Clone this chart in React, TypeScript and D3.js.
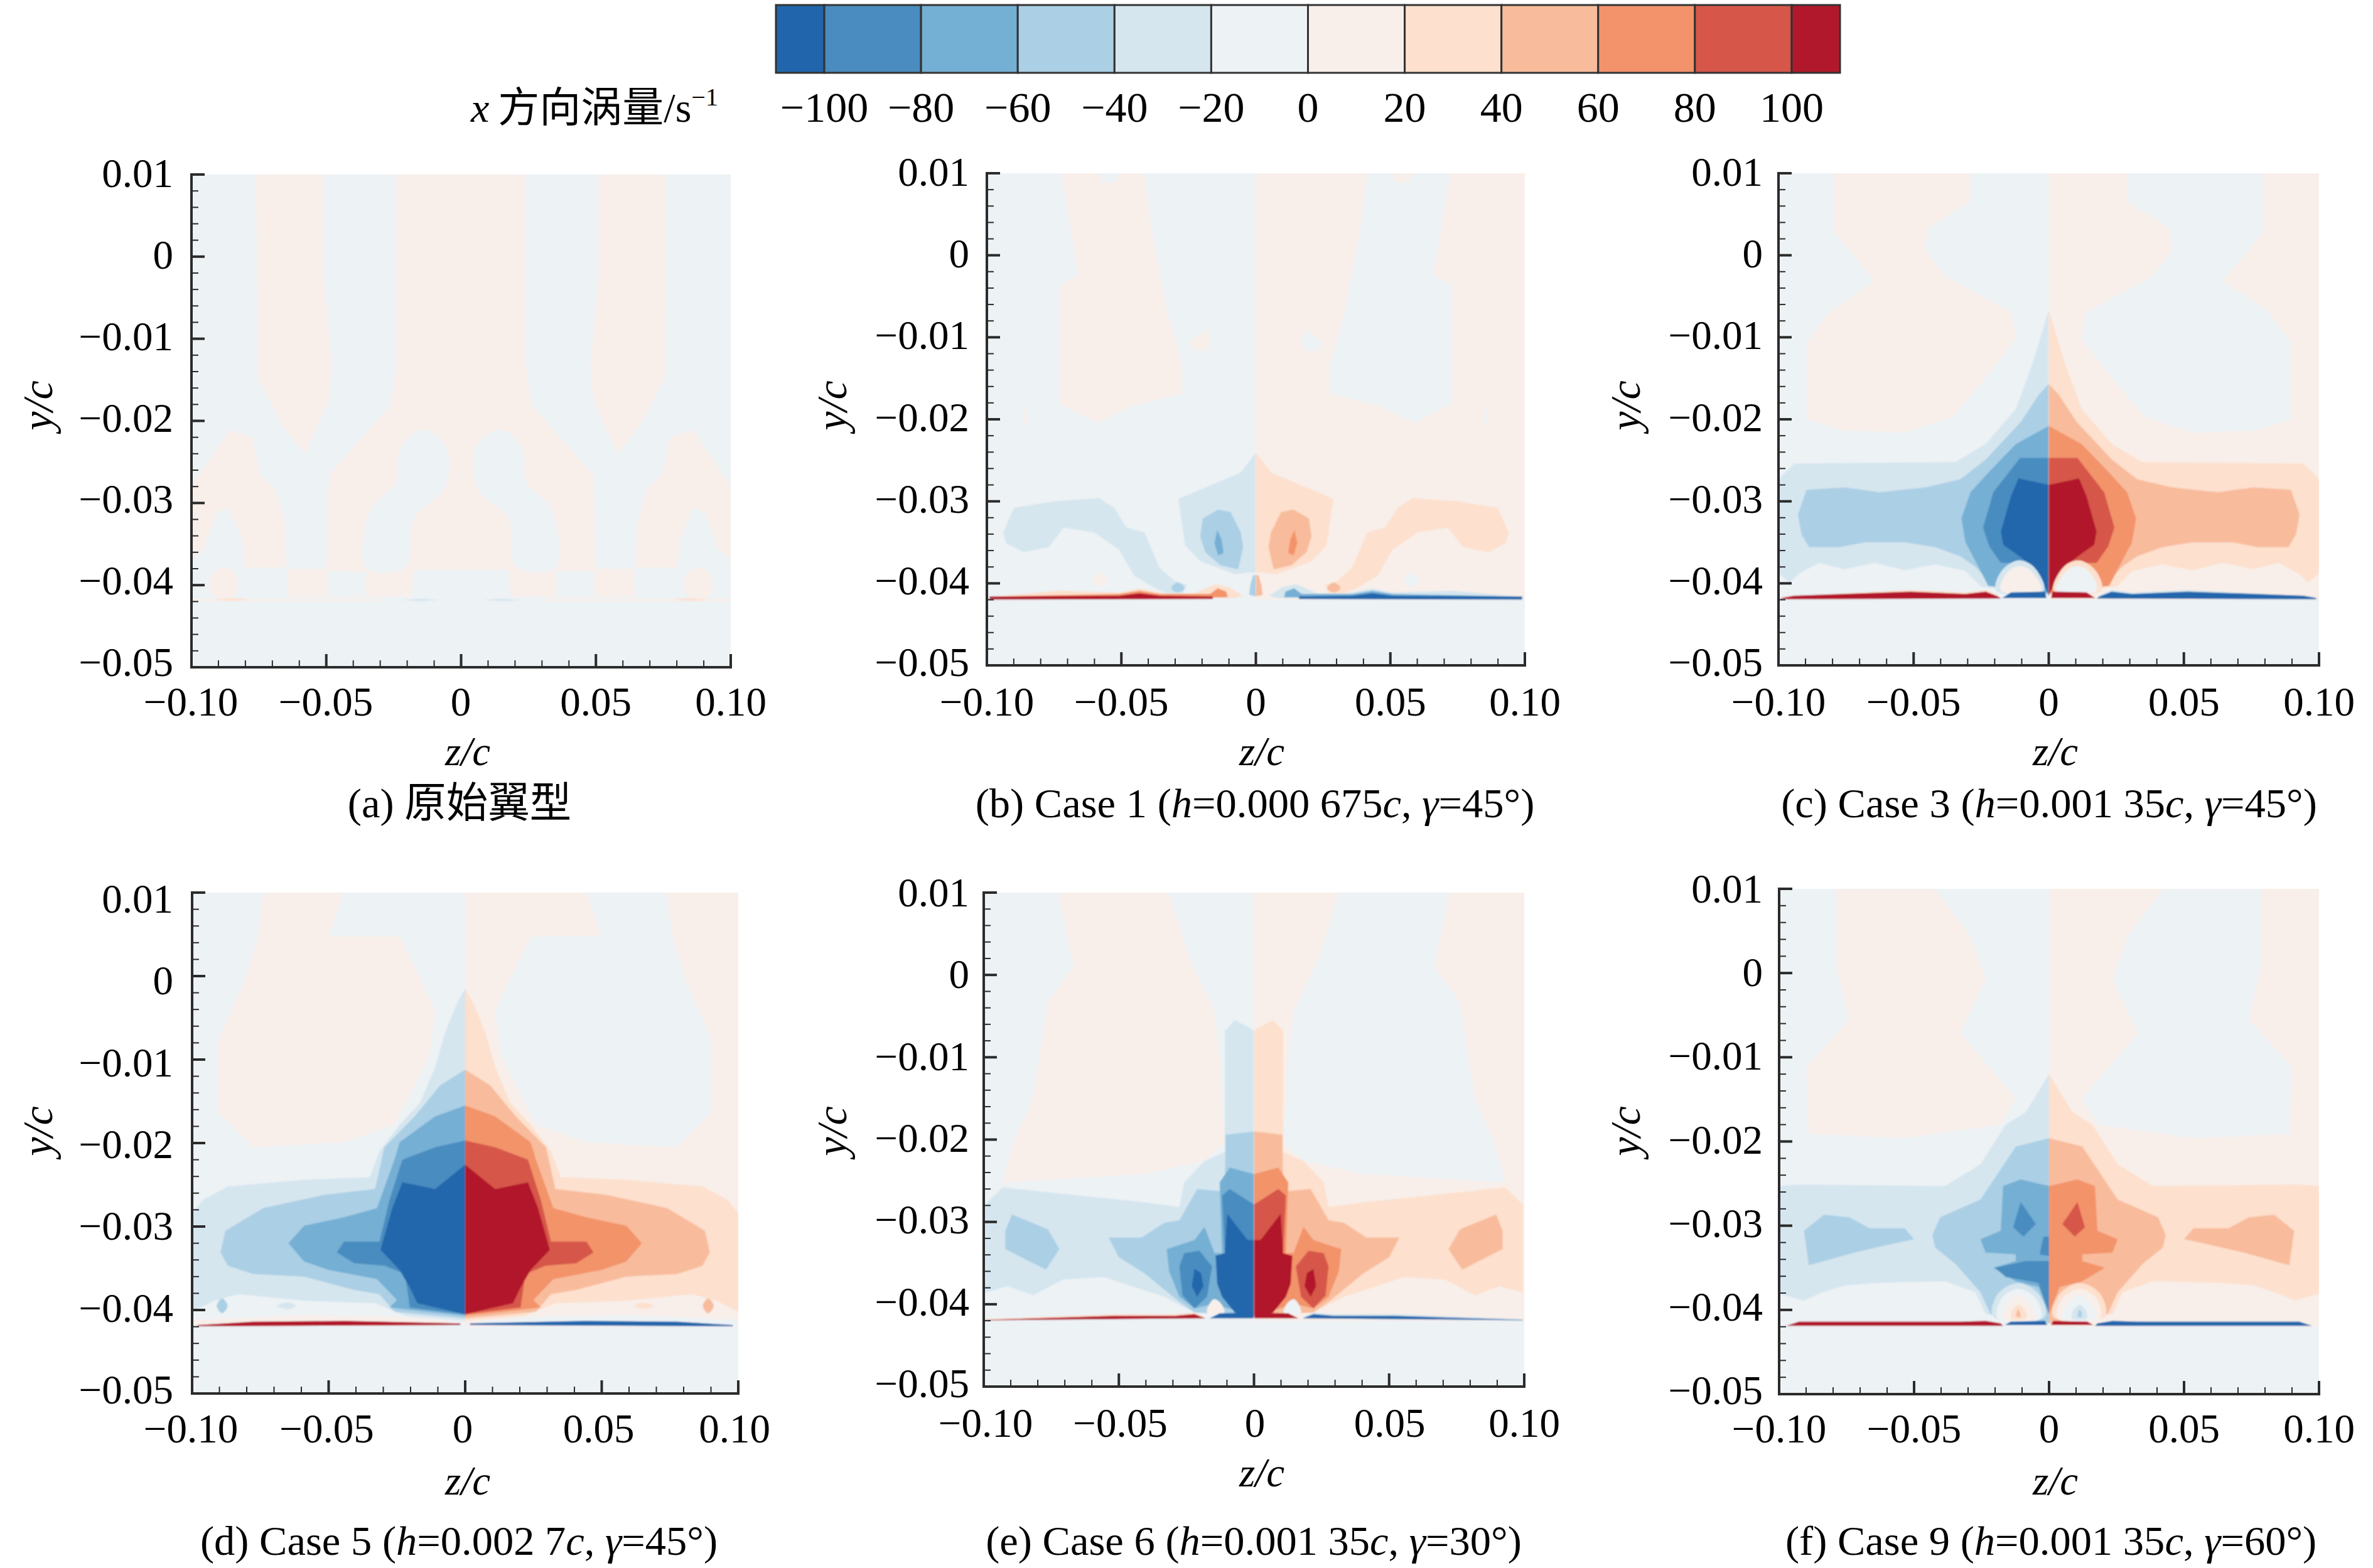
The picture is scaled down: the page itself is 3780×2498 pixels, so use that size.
import React from "react";
import * as d3 from "d3";

type Band = { v: number; pts: number[][]; solo?: boolean; smooth?: boolean };

// Colour bands of the x-vorticity legend
const levelBreaks = [-100, -80, -60, -40, -20, 0, 20, 40, 60, 80, 100];
const levelColors = ["#2166ac", "#4a8cbf", "#74afd4", "#abcfe5", "#d6e6ef", "#edf2f5", "#f8efea", "#fde0ce", "#f8bc9c", "#f3936b", "#d6574a", "#b2182b"];
const levelLabels = ["−100", "−80", "−60", "−40", "−20", "0", "20", "40", "60", "80", "100"];

const zMajor = [-100, -50, 0, 50, 100];
const zMajorLabels = ["−0.10", "−0.05", "0", "0.05", "0.10"];
const zMinor = [-90, -80, -70, -60, -40, -30, -20, -10, 10, 20, 30, 40, 60, 70, 80, 90];
const yMajor = [10, 0, -10, -20, -30, -40, -50];
const yMajorLabels = ["0.01", "0", "−0.01", "−0.02", "−0.03", "−0.04", "−0.05"];
const yMinor = [8, 6, 4, 2, -2, -4, -6, -8, -12, -14, -16, -18, -22, -24, -26, -28, -32, -34, -36, -38, -42, -44, -46, -48];

// Contour bands, left half, in units of 10^-3 c: [z, y]
const bandsA: Band[] = [
  { v: 10, pts: [[-76, 10], [-51, 10], [-51, -2.5], [-48, -13], [-49, -17.5], [-58, -24], [-66, -20.7], [-75.5, -14.8]] },
  { v: 10, pts: [[0, 10], [-24, 10], [-24, -13], [-26, -18], [-49, -26.6], [-50, -38], [-64, -38], [-64.5, -41.4], [0, -41.4]] },
  { v: -10, smooth: true, pts: [[-15.7, -21.1], [-8.2, -22], [-4.5, -24.4], [-6.4, -28.4], [-17.6, -31.9], [-20.4, -37.8], [-35.3, -37.9], [-33.5, -30.8], [-24, -27.4], [-23.2, -23.9]] },
  { v: -10, pts: [[-49.4, -38.3], [-35.3, -38.3], [-35.3, -41.3], [-49.4, -41.3]] },
  { v: -10, pts: [[-17.6, -38.2], [0, -38.2], [0, -41.7], [-18.5, -41.7]] },
  { v: 10, pts: [[-100, -27.9], [-86, -21.1], [-77.4, -22], [-74.6, -26.6], [-69, -28.2], [-65.3, -32.5], [-64.7, -37.9], [-80.2, -37.9], [-81, -34.6], [-86, -30.6], [-90.5, -31.1], [-93.3, -33.5], [-95, -35.5], [-100, -37]] },
  { v: 10, smooth: true, pts: [[-93.5, -40], [-91.5, -38.3], [-88, -37.9], [-84.5, -38.3], [-82.5, -40], [-84.5, -41.4], [-88, -41.6], [-91.5, -41.4]] },
  { v: 10, pts: [[-100, -41.65], [-30, -41.65], [-30, -41.95], [-100, -41.95]] },
  { v: 30, pts: [[-92, -41.75], [-85, -41.6], [-78, -41.75], [-85, -41.95]] },
  { v: -30, pts: [[-22, -41.8], [-15, -41.65], [-8, -41.8], [-15, -41.95]] },
];

const bandsB: Band[] = [
  { v: 10, pts: [[-72.3, 10], [-41.4, 10], [-38.6, 2.75], [-33, -6.9], [-27.4, -13.4], [-27.4, -16.9], [-45, -18.3], [-59, -20.4], [-73, -18.1], [-73, -3.7], [-66, -2.4]] },
  { v: -10, pts: [[-58, 10], [-51, 10], [-52, 8.9], [-57, 8.9]] },
  { v: 10, pts: [[-86.3, -18], [-84.8, -20], [-85.5, -21.2], [-86.5, -20]] },
  { v: 10, pts: [[-24.5, -10.5], [-18, -9], [-17, -10.5], [-18, -11.6], [-24, -11.6]] },
  { v: -30, pts: [[-93.9, -33.8], [-90, -30.8], [-75.2, -30], [-58.3, -29.6], [-52.7, -30.8], [-48, -33.2], [-41.4, -33.8], [-35.8, -38.1], [-30.2, -39.7], [-25.5, -40.2], [-27.4, -41.3], [-33, -41.2], [-36.8, -40.7], [-45.2, -39.1], [-50.8, -35.9], [-60.2, -33.8], [-71.4, -33.2], [-77, -35.6], [-86.4, -36.2], [-93, -35.1]] },
  { v: -30, pts: [[0, -24.1], [-5.7, -26.5], [-28.8, -29.7], [-26.3, -35.4], [-20.7, -37.3], [-7.6, -38.9], [-3, -38.7], [0, -38.7]] },
  { v: -50, pts: [[-14, -31], [-9.4, -31.3], [-5.6, -33.8], [-4.7, -35.6], [-6.6, -38.3], [-13.2, -37.8], [-18.8, -36.2], [-20.7, -34.3], [-19.7, -32.1]] },
  { v: -70, pts: [[-14.4, -33.5], [-15.4, -35.1], [-14, -36.6], [-12, -36.3], [-12.8, -34.6]] },
  { v: -50, pts: [[-1, -39], [0, -39], [0, -41.6], [-2.5, -41.4], [-2.1, -40.2]] },
  { v: -50, smooth: true, pts: [[-31.5, -40.6], [-29, -39.9], [-26.5, -40.6], [-29, -41.1]] },
  { v: 10, smooth: true, pts: [[-61, -39.7], [-57.5, -38.8], [-55, -39.7], [-58, -40.4]] },
  { v: 30, pts: [[-97.6, -41.6], [-73.3, -40.9], [-50.8, -41.1], [-43.3, -40.6], [-33.9, -41.2], [-22.7, -41.2], [-15.2, -40.1], [-9.6, -40.5], [-4.9, -41.5], [-7.7, -41.8], [-97.6, -41.9]] },
  { v: 70, pts: [[-95.8, -41.6], [-50.8, -41.3], [-43.3, -40.9], [-35.8, -41.3], [-17, -41.3], [-14.2, -40.6], [-11, -41], [-10.5, -41.7], [-95.8, -41.8]] },
  { v: 105, pts: [[-99, -41.6], [-50.8, -41.5], [-43.3, -41.2], [-35.8, -41.5], [-16, -41.6], [-16, -41.9], [-99, -42]] },
];

const bandsC: Band[] = [
  { v: 10, pts: [[-79.3, 10], [-29, 10], [-29, 6.6], [-44.8, 3.3], [-45.7, 0.66], [-38.3, -2.6], [-14, -6.9], [-12, -10.1], [-23.3, -14.9], [-35.5, -19.7], [-53.2, -21.6], [-75.6, -21.4], [-89.6, -20], [-89.6, -10.6], [-81.2, -6.9], [-64.4, -3.1], [-79.3, 2.8]] },
  { v: -30, pts: [[-100, -27.3], [-94.3, -25.4], [-34.5, -25.2], [-23.3, -23], [-12.1, -18.7], [-5.6, -12.8], [0, -6.6], [0, -41.5], [-3.7, -41.2], [-25.2, -40.4], [-30.8, -38.5], [-42, -37.7], [-53.2, -38.4], [-64.4, -37.5], [-75.6, -38.3], [-85, -37.5], [-92.4, -38.8], [-96, -39.9], [-100, -38.8]] },
  { v: -50, pts: [[-92.8, -31.6], [-89.6, -28.6], [-75.6, -28.3], [-62.5, -28.9], [-45.7, -28.3], [-32.7, -27.3], [-23.3, -24.9], [-10.3, -20.3], [-3.7, -17], [0, -15.7], [0, -41.2], [-20.5, -40.4], [-27, -38], [-32.7, -36.7], [-42, -35.6], [-53.2, -35], [-68, -35], [-77.5, -35.6], [-88.7, -35.6], [-91.5, -34]] },
  { v: -70, pts: [[-32.3, -32.1], [-29, -28.9], [-21.5, -26.2], [-12.1, -23], [0, -20.8], [0, -41.2], [-22.4, -40.3], [-25.2, -38.5], [-30.8, -35]] },
  { v: -90, pts: [[-24.3, -33.2], [-20.5, -28.9], [-10.6, -24.7], [0, -24.7], [0, -41.2], [-3.7, -39.6], [-10.3, -37.5], [-17.7, -37.5], [-22, -35.5]] },
  { v: -105, pts: [[-17.7, -33.7], [-14, -29.4], [-11.2, -27.2], [0, -28], [0, -41.5], [-1.9, -40.2], [-5.6, -38], [-12.1, -36.4], [-16.8, -35.3]] },
  { v: -30, smooth: true, pts: [[-19.5, -40.9], [-17.5, -38.5], [-11.2, -37.2], [-5.5, -38], [-1.8, -40.9]] },
  { v: 10, smooth: true, pts: [[-17.7, -40.9], [-15.9, -38.9], [-11.2, -37.9], [-6.5, -38.5], [-2.8, -40.9]] },
  { v: 30, pts: [[-98, -41.6], [-51.3, -40.8], [-30.8, -41.1], [-23.3, -40.8], [-18.2, -41.5], [-98, -41.8]] },
  { v: 105, pts: [[-99, -41.8], [-94.3, -41.5], [-51.3, -41], [-30.8, -41.3], [-23.3, -41], [-18.7, -41.6], [-17.7, -41.85], [-99, -41.95]] },
  { v: -105, pts: [[-17.2, -41.8], [-14, -41.1], [-1.3, -41], [-0.9, -41.8]] },
];

const bandsD: Band[] = [
  { v: 10, pts: [[-74, 10], [-44.4, 10], [-50, 4.8], [-24, 4.8], [-11, -4.1], [-12.9, -9.4], [-25.9, -17.8], [-44.4, -19.9], [-77.6, -20.5], [-90.6, -16.2], [-90.6, -7.8], [-81.3, -1], [-75.8, 4.8]] },
  { v: -30, pts: [[-100, -28.4], [-96, -26.8], [-87, -25.2], [-59, -24.4], [-35, -24.1], [-31.4, -21], [-24, -17.8], [-16.6, -15.2], [-11.1, -11], [-7.4, -6.8], [-2.8, -3.1], [0, -1.5], [0, -41.3], [-22, -40.7], [-33, -39.2], [-59, -38.9], [-83, -38.1], [-92, -38.9], [-100, -40.2]] },
  { v: -50, pts: [[-89.6, -33.1], [-87.8, -30.5], [-74, -27.8], [-51.7, -26.2], [-33, -25.5], [-29.6, -20.5], [-18.5, -16.8], [-9.2, -13.1], [0, -11.2], [0, -41], [-25.9, -40.2], [-31.4, -38.1], [-40.7, -37.6], [-59, -36], [-77.6, -35.7], [-86.9, -34.7]] },
  { v: -70, pts: [[-64.7, -32], [-59, -29.9], [-44.4, -28.9], [-32.3, -27.8], [-25.9, -22], [-24, -19.9], [-11, -16.8], [0, -15.5], [0, -40.7], [-27.7, -39.7], [-25, -38.8], [-32.3, -36.3], [-49.9, -35.2], [-59, -34.2]] },
  { v: -90, pts: [[-47, -33.1], [-44.4, -31.8], [-31.4, -31.8], [-27.7, -26.8], [-23, -22], [-11, -20.5], [0, -19.7], [0, -40.5], [-20.3, -39.7], [-22, -35.7], [-29.4, -34.7], [-40.7, -34.4]] },
  { v: -105, pts: [[-31, -32.8], [-26.7, -27.8], [-23, -24.7], [-11, -25.5], [0, -22.6], [0, -40.5], [-17.5, -39.2], [-20.3, -37.3], [-24, -35.2]] },
  { v: -50, smooth: true, pts: [[-91, -39.5], [-89, -38.6], [-87, -39.5], [-89, -40.4]] },
  { v: -30, smooth: true, pts: [[-69, -39.5], [-65, -39.1], [-62, -39.5], [-65, -39.9]] },
  { v: 10, pts: [[-100, -41.2], [-60, -40.6], [-25, -40.8], [-3, -41.4], [-25, -41.9], [-100, -41.9]] },
  { v: 105, pts: [[-98, -41.8], [-77.6, -41.4], [-44, -41.3], [-1.8, -41.6], [-1.8, -41.8], [-98, -41.95]] },
];

const bandsE: Band[] = [
  { v: 10, pts: [[-72.4, 10], [-31.4, 10], [-23.9, 2], [-14.6, -4.4], [-12.7, -9.7], [-10.8, -20.4], [-18.3, -22.6], [-40.7, -24.2], [-93, -25.2], [-89.2, -20.4], [-81.8, -15.1], [-76.2, -3.3], [-66.8, 1]] },
  { v: -30, pts: [[-99.5, -27.9], [-93, -25.8], [-70.6, -26.6], [-40.7, -27.6], [-27.6, -28.2], [-25.8, -25.2], [-18.3, -22.6], [-10.8, -21.5], [-10.8, -6.8], [-7.1, -5.5], [-1.1, -6.5], [0, -6.8], [0, -41.3], [-22, -41], [-33.2, -39.1], [-55.6, -36.7], [-70.6, -37], [-81.8, -38.9], [-91, -37.8], [-99.5, -38.6]] },
  { v: -50, pts: [[-92, -31.1], [-89.6, -29.1], [-76.2, -30.9], [-72, -33.3], [-77, -35.8], [-92, -33.3]] },
  { v: -50, pts: [[-53.8, -31.9], [-41.6, -31.9], [-33.2, -30.1], [-27.6, -29.8], [-21, -26], [-10.8, -26.3], [-10.5, -19.4], [0, -19], [0, -41.3], [-22, -41], [-27.6, -39.7], [-40.7, -36.2], [-50, -34.3]] },
  { v: -70, pts: [[-32.3, -33.3], [-22, -32.2], [-18.3, -30.6], [-14.6, -33.8], [-11.8, -33.8], [-12.7, -25.2], [-9, -23.4], [0, -24.2], [0, -41.3], [-15.5, -40], [-22, -40.5], [-27.6, -39.1], [-31.4, -36]] },
  { v: -90, pts: [[-25.8, -33.8], [-20.2, -33.5], [-15.5, -35.4], [-17.4, -39.1], [-22, -40.5], [-26.5, -38.9], [-27.6, -35.4]] },
  { v: -105, pts: [[-22, -35.7], [-19.6, -36.2], [-18.7, -37.8], [-21, -39.1], [-23, -37.8]] },
  { v: -90, pts: [[-11.8, -26.8], [-9, -26], [0, -27.9], [0, -41.3], [-10.8, -33.8]] },
  { v: -105, pts: [[-14.2, -34.1], [-10.8, -33.8], [-9.9, -29], [-2.4, -32.2], [0, -32.2], [0, -41.6], [-7.1, -41], [-11.8, -39.1], [-13.6, -37.5]] },
  { v: 10, smooth: true, pts: [[-17.4, -41], [-15, -39.4], [-12.5, -39.8], [-11, -41]] },
  { v: 30, pts: [[-99, -41.8], [-52, -41.2], [-29.5, -41.2], [-22, -41], [-18, -41.6], [-99, -41.9]] },
  { v: 105, pts: [[-99.5, -41.9], [-52, -41.4], [-29.5, -41.4], [-22, -41.2], [-18, -41.7], [-99.5, -41.95]] },
  { v: -105, pts: [[-16.4, -41.7], [-12.7, -41.1], [-0.6, -41], [-0.2, -41.7]] },
];

const bandsF: Band[] = [
  { v: 10, pts: [[-78.7, 10], [-42.2, 10], [-29.2, 4.4], [-23.5, -0.8], [-32.9, -7.1], [-12.3, -14.9], [-17.9, -18], [-53.5, -19.6], [-89, -19.1], [-90, -11.2], [-74, -5.5], [-78.7, 0.8]] },
  { v: -30, pts: [[-100, -25.3], [-92.7, -25.1], [-38.5, -25.3], [-25.4, -22.7], [-16.1, -18], [-8.6, -16.5], [0, -12], [0, -41.6], [-23.5, -40.5], [-27.3, -37.9], [-38.5, -36.6], [-64.7, -36.8], [-75.9, -37.1], [-85.2, -38.1], [-90.8, -38.9], [-100, -38.1]] },
  { v: -50, pts: [[-90.8, -30.6], [-83.4, -28.7], [-74, -29], [-66.5, -30.3], [-53.5, -30.3], [-50, -31.6], [-57.2, -32.1], [-72.1, -33.2], [-89, -34.7]] },
  { v: -50, pts: [[-43.2, -31.1], [-40.4, -29], [-25.4, -26.9], [-12.3, -20.6], [0, -19.6], [0, -41.6], [-21.7, -40.5], [-25.4, -37.9], [-34.8, -34.5], [-42.2, -32.6]] },
  { v: -70, pts: [[-25.4, -31.6], [-17.9, -30.6], [-17, -25.3], [-10.5, -24.5], [0, -25.3], [0, -40.5], [-3.9, -37.3], [-12.3, -36.6], [-20.7, -35], [-12.3, -34.2], [-12.3, -33.4], [-23.5, -33.2]] },
  { v: -90, solo: true, pts: [[-10.5, -27.2], [-4.9, -29.8], [-9.5, -31.3], [-13.3, -30.2]] },
  { v: -90, solo: true, pts: [[-2.1, -31.3], [0, -31.3], [0, -33.6], [-3.5, -33.4]] },
  { v: -90, solo: true, pts: [[-20, -35], [-8.6, -34.2], [0, -34.2], [0, -40.5], [-3.9, -36.8], [-10.5, -36.4], [-16, -36.1]] },
  { v: 90, solo: true, pts: [[10.5, -27.2], [4.9, -29.8], [9.5, -31.3], [13.3, -30.2]] },
  { v: 90, solo: true, pts: [[0, -30.9], [13.9, -31.7], [24.2, -32.2], [17.7, -33.3], [4.5, -33.6], [0, -33.9]] },
  { v: 90, solo: true, pts: [[0, -34.2], [11, -34.7], [12.9, -35.7], [6.3, -36.8], [0, -37.1]] },
  { v: -30, smooth: true, pts: [[-20.7, -40.8], [-19, -38.1], [-11.4, -36.8], [-3.9, -38.1], [-1.5, -40.8]] },
  { v: -10, smooth: true, pts: [[-19, -41], [-17.5, -38.6], [-11.4, -37.5], [-5, -38.6], [-3, -41]] },
  { v: 10, smooth: true, pts: [[-17, -41], [-15.5, -39.3], [-11.4, -38.3], [-7, -39.3], [-5, -41]] },
  { v: 30, smooth: true, pts: [[-14, -41], [-13.5, -40], [-11.4, -39.4], [-9, -40], [-8.5, -41]] },
  { v: 50, smooth: true, pts: [[-12.2, -40.8], [-11.4, -39.9], [-10.6, -40.8]] },
  { v: 105, pts: [[-97.4, -41.9], [-92.7, -41.4], [-32.9, -41.4], [-23.5, -41.3], [-17.9, -41.6], [-17, -41.9]] },
  { v: -105, pts: [[-16.4, -41.8], [-14.2, -41.4], [-1.5, -41.3], [-0.7, -41.8]] },
];

const captionA: [string, boolean][] = [["(a) 原始翼型", false]];
const captionB: [string, boolean][] = [["(b) Case 1 (", false], ["h", true], ["=0.000 675", false], ["c", true], [", ", false], ["γ", true], ["=45°)", false]];
const captionC: [string, boolean][] = [["(c) Case 3 (", false], ["h", true], ["=0.001 35", false], ["c", true], [", ", false], ["γ", true], ["=45°)", false]];
const captionD: [string, boolean][] = [["(d) Case 5 (", false], ["h", true], ["=0.002 7", false], ["c", true], [", ", false], ["γ", true], ["=45°)", false]];
const captionE: [string, boolean][] = [["(e) Case 6 (", false], ["h", true], ["=0.001 35", false], ["c", true], [", ", false], ["γ", true], ["=30°)", false]];
const captionF: [string, boolean][] = [["(f) Case 9 (", false], ["h", true], ["=0.001 35", false], ["c", true], [", ", false], ["γ", true], ["=60°)", false]];

const FONT = '"Liberation Serif","Noto Sans CJK SC",serif';
const color = d3.scaleThreshold<number, string>().domain(levelBreaks).range(levelColors);

// labT/labB and labL/labR: where the tick labels sit, which in the reference can differ a little from the plot frame
const layouts = [
  { id: "a", L: 305, R: 1164, T: 278, B: 1063, labT: 278, labB: 1057, labL: 304, labR: 1164, tickR: 276, tickBase: 1140, zcX: 745, zcBase: 1219, capX: 732, capBase: 1302, ycX: 83, ycY: 646, bands: bandsA, mode: "same", cap: captionA },
  { id: "b", L: 1572, R: 2429, T: 276, B: 1060, labT: 276, labB: 1057, labL: 1572, labR: 2429, tickR: 1544, tickBase: 1140, zcX: 2010, zcBase: 1219, capX: 1999, capBase: 1302, ycX: 1348, ycY: 646, bands: bandsB, mode: "flip", cap: captionB },
  { id: "c", L: 2833, R: 3694, T: 276, B: 1060, labT: 276, labB: 1057, labL: 2833, labR: 3694, tickR: 2808, tickBase: 1140, zcX: 3274, zcBase: 1219, capX: 3264, capBase: 1302, ycX: 2612, ycY: 646, bands: bandsC, mode: "flip", cap: captionC },
  { id: "d", L: 306, R: 1176, T: 1422, B: 2220, labT: 1434, labB: 2216, labL: 304, labR: 1170, tickR: 276, tickBase: 2298, zcX: 745, zcBase: 2381, capX: 731, capBase: 2477, ycX: 83, ycY: 1802, bands: bandsD, mode: "flip", cap: captionD },
  { id: "e", L: 1567, R: 2428, T: 1422, B: 2209, labT: 1424, labB: 2206, labL: 1570, labR: 2428, tickR: 1544, tickBase: 2289, zcX: 2010, zcBase: 2368, capX: 1997, capBase: 2477, ycX: 1348, ycY: 1802, bands: bandsE, mode: "flip", cap: captionE },
  { id: "f", L: 2834, R: 3694, T: 1416, B: 2221, labT: 1418, labB: 2217, labL: 2834, labR: 3694, tickR: 2808, tickBase: 2298, zcX: 3274, zcBase: 2381, capX: 3267, capBase: 2477, ycX: 2612, ycY: 1802, bands: bandsF, mode: "flip", cap: captionF },
];

const AXIS = "#2b2b2b";
const FS = 65;

function Panel({ p }: { p: (typeof layouts)[number] }) {
  const x = d3.scaleLinear().domain([-100, 100]).range([p.L, p.R]);
  const y = d3.scaleLinear().domain([-50, 10]).range([p.B, p.T]);
  const xLab = d3.scaleLinear().domain([-100, 100]).range([p.labL, p.labR]);
  const yLab = d3.scaleLinear().domain([-50, 10]).range([p.labB, p.labT]);
  const lin = d3.line<number[]>().x((d) => x(d[0])).y((d) => y(d[1])).curve(d3.curveLinearClosed);
  const smo = d3.line<number[]>().x((d) => x(d[0])).y((d) => y(d[1])).curve(d3.curveCatmullRomClosed.alpha(0.5));
  const draw = (b: Band) => (b.smooth ? smo(b.pts) : lin(b.pts)) as string;
  const left = p.bands.filter((b: Band) => !b.solo || b.pts[0][0] <= 0);
  const right: Band[] = p.bands
    .filter((b: Band) => !b.solo || b.pts[0][0] > 0)
    .map((b: Band) =>
      b.solo
        ? b
        : { ...b, v: p.mode === "flip" ? -b.v : b.v, pts: b.pts.map(([z, v]) => [-z, v]) },
    );
  const x0 = x(0);
  return (
    <g fontFamily={FONT} fill="#000">
      <defs>
        <clipPath id={`cl-${p.id}`}><rect x={p.L} y={p.T} width={x0 - p.L} height={p.B - p.T} /></clipPath>
        <clipPath id={`cr-${p.id}`}><rect x={x0} y={p.T} width={p.R - x0} height={p.B - p.T} /></clipPath>
        <clipPath id={`ca-${p.id}`}><rect x={p.L} y={p.T} width={p.R - p.L} height={p.B - p.T} /></clipPath>
      </defs>
      <g clipPath={`url(#ca-${p.id})`}>
        <g filter="url(#soft)">
          <rect x={p.L - 10} y={p.T - 10} width={x0 - p.L + 10} height={p.B - p.T + 20} fill={color(-10)} />
          <rect x={x0} y={p.T - 10} width={p.R - x0 + 10} height={p.B - p.T + 20} fill={color(p.mode === "flip" ? 10 : -10)} />
          <g clipPath={`url(#cl-${p.id})`}>
            {left.map((b: Band, i: number) => <path key={i} d={draw(b)} fill={color(b.v)} />)}
          </g>
          <g clipPath={`url(#cr-${p.id})`}>
            {right.map((b: Band, i: number) => <path key={i} d={draw(b)} fill={color(b.v)} />)}
          </g>
          <rect x={p.L - 10} y={y(-42)} width={p.R - p.L + 20} height={p.B - y(-42) + 10} fill={color(-10)} />
        </g>
      </g>
      <line x1={p.L} x2={p.L} y1={p.T - 2} y2={p.B + 2} stroke={AXIS} strokeWidth={4} />
      <line x1={p.L - 2} x2={p.R + 2} y1={p.B} y2={p.B} stroke={AXIS} strokeWidth={4} />
      {zMajor.map((t, i) => (
        <g key={t}>
          <line x1={x(t)} x2={x(t)} y1={p.B} y2={p.B - 21} stroke={AXIS} strokeWidth={4} />
          <text x={xLab(t)} y={p.tickBase} textAnchor="middle" fontSize={FS}>{zMajorLabels[i]}</text>
        </g>
      ))}
      {zMinor.map((t) => <line key={t} x1={x(t)} x2={x(t)} y1={p.B} y2={p.B - 11} stroke={AXIS} strokeWidth={2} />)}
      {yMajor.map((t, i) => (
        <g key={t}>
          <line x1={p.L} x2={p.L + 21} y1={y(t)} y2={y(t)} stroke={AXIS} strokeWidth={4} />
          <text x={p.tickR} y={yLab(t) + 20} textAnchor="end" fontSize={FS}>{yMajorLabels[i]}</text>
        </g>
      ))}
      {yMinor.map((t) => <line key={t} x1={p.L} x2={p.L + 11} y1={y(t)} y2={y(t)} stroke={AXIS} strokeWidth={2} />)}
      <text x={p.zcX} y={p.zcBase} textAnchor="middle" fontSize={FS} fontStyle="italic">z/c</text>
      <text transform={`translate(${p.ycX},${p.ycY}) rotate(-90)`} textAnchor="middle" fontSize={68} fontStyle="italic">y/c</text>
      <text x={p.capX} y={p.capBase} textAnchor="middle" fontSize={66.5}>
        {p.cap.map(([s, it]: [string, boolean], i: number) => (
          <tspan key={i} fontStyle={it ? "italic" : "normal"}>{s}</tspan>
        ))}
      </text>
    </g>
  );
}

function Legend() {
  const lx = d3.scaleLinear().domain([-110, 110]).range([1236, 2931]);
  const edges = [-110, ...levelBreaks, 110];
  return (
    <g fontFamily={FONT}>
      {levelColors.map((c, i) => (
        <rect key={c} x={lx(edges[i])} y={8} width={lx(edges[i + 1]) - lx(edges[i])} height={108} fill={c} stroke="#333" strokeWidth={3} />
      ))}
      {levelLabels.map((s, i) => (
        <text key={s} x={lx(levelBreaks[i])} y={194} textAnchor="middle" fontSize={68}>{s}</text>
      ))}
      <text x={750} y={194} fontSize={66}>
        <tspan fontStyle="italic">x</tspan>
        <tspan dx={14}>方向涡量/s</tspan>
        <tspan fontSize={40} dy={-26}>−1</tspan>
      </text>
    </g>
  );
}

export default function App() {
  return (
    <svg width={3780} height={2498} viewBox="0 0 3780 2498" style={{ position: "absolute", left: 0, top: 0, background: "#fff" }}>
      <defs>
        <filter id="soft" x="-2%" y="-2%" width="104%" height="104%">
          <feGaussianBlur stdDeviation="1.3" />
        </filter>
      </defs>
      <Legend />
      {layouts.map((p) => <Panel key={p.id} p={p} />)}
    </svg>
  );
}
